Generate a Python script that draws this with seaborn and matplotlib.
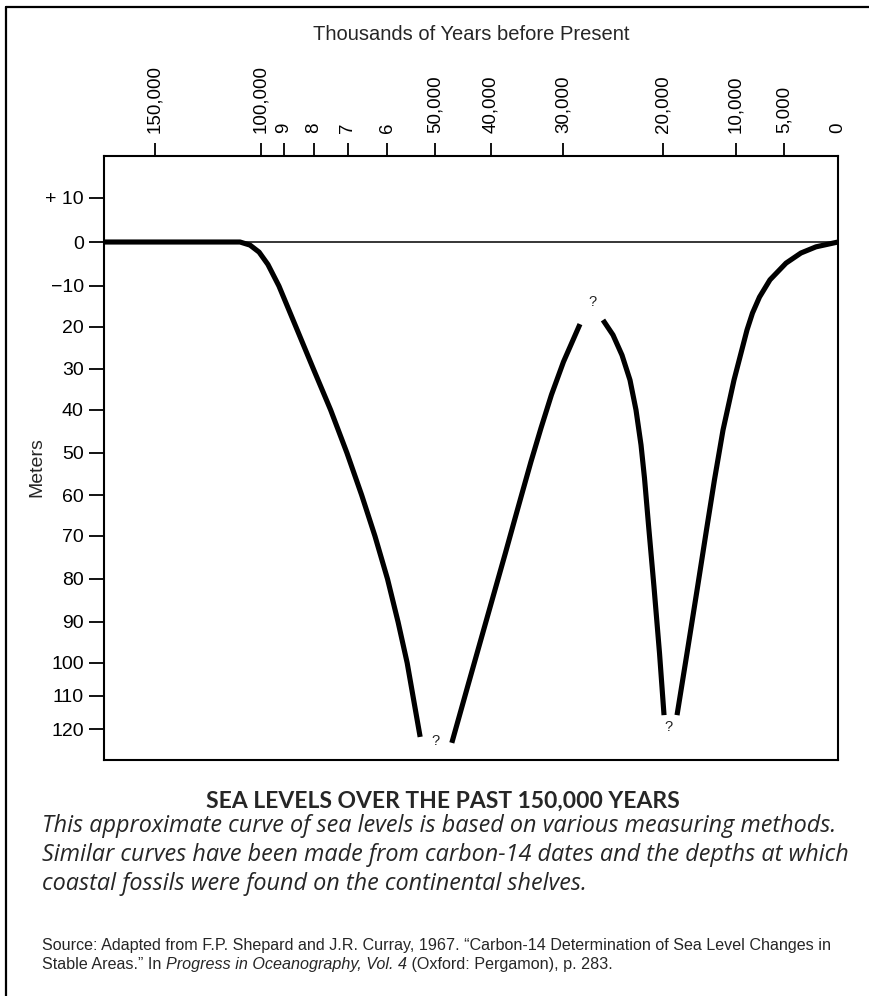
import numpy as np
import pandas as pd
import matplotlib
matplotlib.use("Agg")
import matplotlib.pyplot as plt
from matplotlib.lines import Line2D
import seaborn as sns

# ---------------- data: years before present / sea level (m) ----------------
seg1_years = [174000, 109900, 105200, 100900, 97000, 92200, 86000, 80200, 75100,
              70300, 66500, 63100, 59900, 57700, 55800, 53100]
seg1_level = [0, 0, -0.7, -2.3, -5.1, -10, -20, -30, -40,
              -50, -60, -70, -80, -90, -100, -122.4]

seg2_years = [47000, 44200, 40800, 38000, 36800, 35750, 34450, 33050, 31600, 29950, 28300]
seg2_level = [-124.2, -107.3, -89.5, -74.0, -66.6, -60, -52.1, -44.2, -36.3, -28.3, -19.3]

seg3_years = [26000, 25000, 24100, 23300, 22700, 22200, 21850, 21450, 20900, 20350, 19860]
seg3_level = [-18.3, -21.9, -26.7, -32.7, -40.0, -48.1, -56.0, -67.3, -81.9, -97.6, -115.8]

seg4_years = [18080, 16710, 15270, 14040, 12950, 11780, 10270, 8850, 8280, 7550,
              6460, 4810, 3430, 2040, 0]
seg4_level = [-115.8, -97.6, -81.9, -68.5, -56.4, -44.7, -32.7, -20.7, -16.6, -12.7,
              -8.6, -4.8, -2.5, -1.1, 0]

# uncertain points marked with "?"
q_years = [50000, 27100, 19300]
q_level = [-123.6, -13.9, -119.4]

x_tick_years = [150000, 100000, 90000, 80000, 70000, 60000, 50000, 40000, 30000,
                20000, 10000, 5000, 0]
x_tick_labels = ["150,000", "100,000", "9", "8", "7", "6", "50,000", "40,000",
                 "30,000", "20,000", "10,000", "5,000", "0"]
y_tick_levels = [10, 0, -10, -20, -30, -40, -50, -60, -70, -80, -90, -100, -110, -120]
y_tick_labels = ["+ 10", "0", "\u221210", "20", "30", "40", "50", "60", "70", "80",
                 "90", "100", "110", "120"]

title = "SEA LEVELS OVER THE PAST 150,000 YEARS"
caption = ["This approximate curve of sea levels is based on various measuring methods.",
           "Similar curves have been made from carbon-14 dates and the depths at which",
           "coastal fossils were found on the continental shelves."]
source1 = ("Source: Adapted from F.P. Shepard and J.R. Curray, 1967. \u201cCarbon-14 "
           "Determination of Sea Level Changes in")
source2a = "Stable Areas.\u201d In "
source2b = "Progress in Oceanography, Vol. 4"
source2c = " (Oxford: Pergamon), p. 283."

# ---------------- non-uniform axis scales of the original drawing ----------------
X_SCALE_YEARS = np.array([174000, 150000, 100000, 90000, 80000, 70000, 60000, 50000,
                          40000, 30000, 20000, 10000, 5000, 0], float)
X_SCALE_POS = np.array([0, 0.0695, 0.2139, 0.2452, 0.2861, 0.3324, 0.3856, 0.4510,
                        0.5272, 0.6253, 0.7616, 0.8610, 0.9264, 1.0])
Y_SCALE_LEVEL = np.array([-129.4, -120, -110, -100, -90, -80, -70, -60, -50, -40,
                          -30, -20, -10, 0, 10, 19.5], float)
Y_SCALE_POS = np.array([0, 0.0513, 0.1060, 0.1606, 0.2285, 0.2997, 0.3709, 0.4387,
                        0.5083, 0.5795, 0.6474, 0.7169, 0.7848, 0.8576, 0.9305, 1.0])


def piecewise(x, xp, fp):
    x = np.asarray(x, float)
    y = np.interp(x, xp, fp)
    lo_slope = (fp[1] - fp[0]) / (xp[1] - xp[0])
    hi_slope = (fp[-1] - fp[-2]) / (xp[-1] - xp[-2])
    y = np.where(x < xp[0], fp[0] + (x - xp[0]) * lo_slope, y)
    y = np.where(x > xp[-1], fp[-1] + (x - xp[-1]) * hi_slope, y)
    return y


xs_y = X_SCALE_YEARS[::-1]
xs_f = -X_SCALE_POS[::-1]


def x_fwd(v):
    return piecewise(v, xs_y, xs_f)


def x_inv(v):
    return piecewise(v, xs_f, xs_y)


def y_fwd(v):
    return piecewise(v, Y_SCALE_LEVEL, Y_SCALE_POS)


def y_inv(v):
    return piecewise(v, Y_SCALE_POS, Y_SCALE_LEVEL)


# ---------------- figure ----------------
sns.set_style("white")
plt.rcParams["font.family"] = ["Liberation Sans", "DejaVu Sans"]

df = pd.concat([
    pd.DataFrame({"years": seg1_years, "level": seg1_level, "segment": 1}),
    pd.DataFrame({"years": seg2_years, "level": seg2_level, "segment": 2}),
    pd.DataFrame({"years": seg3_years, "level": seg3_level, "segment": 3}),
    pd.DataFrame({"years": seg4_years, "level": seg4_level, "segment": 4}),
], ignore_index=True)

fig = plt.figure(figsize=(8.69, 9.96), dpi=100)
ax = fig.add_axes([104 / 869, 1 - 760 / 996, 734 / 869, 604 / 996])

ax.axhline(0, color="black", lw=1.1, zorder=1)
sns.lineplot(data=df, x="years", y="level", units="segment", estimator=None,
             sort=False, color="black", linewidth=3.7, solid_capstyle="butt",
             solid_joinstyle="round", legend=False, ax=ax, zorder=3)

for xq, yq in zip(q_years, q_level):
    ax.text(xq, yq, "?", ha="center", va="center", fontsize=10.5, color="#222222")

ax.set_xscale("function", functions=(x_fwd, x_inv))
ax.set_yscale("function", functions=(y_fwd, y_inv))
ax.set_xlim(X_SCALE_YEARS[0], X_SCALE_YEARS[-1])
ax.set_ylim(Y_SCALE_LEVEL[0], Y_SCALE_LEVEL[-1])

ax.set_xticks(x_tick_years)
ax.set_xticklabels(x_tick_labels)
ax.set_yticks(y_tick_levels)
ax.set_yticklabels(y_tick_labels)
ax.minorticks_off()

ax.tick_params(axis="x", top=True, bottom=False, labeltop=True, labelbottom=False,
               labelrotation=90, direction="out", length=9.5, width=1.3, pad=7,
               labelsize=13.5, colors="black")
ax.tick_params(axis="y", left=True, direction="out", length=10.5, width=1.3, pad=4,
               labelsize=14, colors="black")
ax.xaxis.get_major_ticks()[-1].tick2line.set_visible(False)

ax.xaxis.set_label_position("top")
ax.set_xlabel("Thousands of Years before Present", fontsize=14.5, labelpad=18)
ax.set_ylabel("Meters", fontsize=14)
ax.yaxis.set_label_coords(-0.0804, 0.485)

for sp in ax.spines.values():
    sp.set_color("black")
    sp.set_linewidth(1.5)
ax.grid(False)

# ---------------- captions ----------------
fig.text(443 / 869, 1 - 801 / 996, title, ha="center", va="center",
         family=["Lato", "DejaVu Sans"], weight="bold", fontsize=16.5)
for i, line in enumerate(caption):
    fig.text(42 / 869, 1 - (826 + 29 * i) / 996, line, ha="left", va="center",
             family=["Open Sans", "DejaVu Sans"], style="italic", fontsize=16.8)

src_kw = dict(family=["Liberation Sans", "DejaVu Sans"], fontsize=11.65)
fig.text(42 / 869, 1 - 945 / 996, source1, ha="left", va="center", **src_kw)
t1 = fig.text(42 / 869, 1 - 964 / 996, source2a, ha="left", va="center", **src_kw)
t2 = ax.annotate(source2b, xy=(1, 0), xycoords=t1, ha="left", va="bottom",
                 style="italic", annotation_clip=False, **src_kw)
ax.annotate(source2c, xy=(1, 0), xycoords=t2, ha="left", va="bottom",
            annotation_clip=False, **src_kw)

# outer frame of the figure panel
fig.add_artist(Line2D([6 / 869, 6 / 869], [0, 1 - 7 / 996], transform=fig.transFigure,
                      color="black", lw=1.6))
fig.add_artist(Line2D([6 / 869, 1], [1 - 7 / 996, 1 - 7 / 996], transform=fig.transFigure,
                      color="black", lw=1.6))

fig.savefig("out.png", dpi=100, facecolor="white")
